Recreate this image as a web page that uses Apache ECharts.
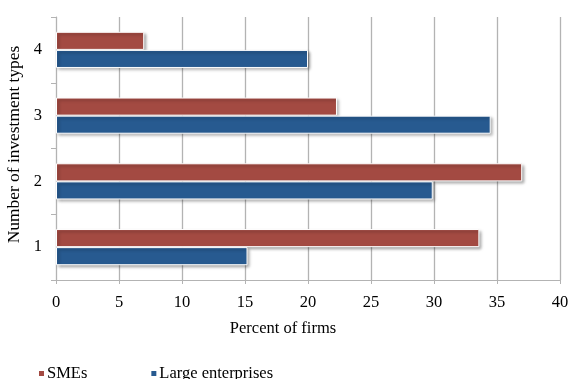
<!DOCTYPE html>
<html>
<head>
<meta charset="utf-8">
<script src="https://cdn.jsdelivr.net/npm/echarts@6/dist/echarts.min.js"></script>
<style>
  html, body { margin: 0; padding: 0; background: #fff; }
  #chart { width: 568px; height: 379px; }
</style>
</head>
<body>
<div id="chart"></div>
<script>
// Number of investment types (category axis, bottom to top)
const categories = ['1', '2', '3', '4'];
// Share of firms (%) by number of investment types
const smes = [33.6, 37.0, 22.3, 7.0];
const largeEnterprises = [15.2, 29.9, 34.5, 20.0];
const xTicks = { min: 0, max: 40, interval: 5 };

const font = 'Liberation Serif, Times New Roman, serif';
const fontSize = 16.5;
const gridGray = '#b3b3b3';

const barStyle = (color) => ({
  color: color,
  borderColor: '#ffffff',
  borderWidth: 1,
  shadowColor: 'rgba(0,0,0,0.35)',
  shadowBlur: 3,
  shadowOffsetX: 2,
  shadowOffsetY: 2
});

const chart = echarts.init(document.getElementById('chart'));
chart.setOption({
  animation: false,
  textStyle: { fontFamily: font },
  grid: { left: 56, right: 8, top: 17, bottom: 99, containLabel: false, outerBoundsMode: 'none' },
  legend: {
    data: ['SMEs', 'Large enterprises'],
    left: 32,
    top: 360,
    itemWidth: 7,
    itemHeight: 7,
    itemGap: 62,
    icon: 'rect',
    textStyle: { fontFamily: font, fontSize: fontSize, color: '#000', padding: [6, 0, 0, -3] }
  },
  xAxis: {
    type: 'value',
    min: xTicks.min,
    max: xTicks.max,
    interval: xTicks.interval,
    name: 'Percent of firms',
    nameLocation: 'middle',
    nameGap: 40,
    nameTextStyle: { fontFamily: font, fontSize: fontSize, color: '#000', padding: [0, 50, 0, 0] },
    axisLine: { show: true, lineStyle: { color: gridGray, width: 1 } },
    axisTick: { show: true, length: 4, lineStyle: { color: gridGray } },
    axisLabel: { fontFamily: font, fontSize: fontSize, color: '#000', margin: 14 },
    splitLine: { show: true, lineStyle: { color: gridGray, width: 1.3 } }
  },
  yAxis: {
    type: 'category',
    data: categories,
    name: 'Number of investment types',
    nameLocation: 'middle',
    nameGap: 24,
    nameRotate: 90,
    nameTextStyle: { fontFamily: font, fontSize: 17.4, color: '#000', padding: [0, 0, 0, 8] },
    axisLine: { show: true, lineStyle: { color: gridGray, width: 1 } },
    axisTick: { show: true, length: 5, lineStyle: { color: gridGray } },
    axisLabel: { fontFamily: font, fontSize: fontSize, color: '#000', margin: 14 }
  },
  series: [
    {
      name: 'SMEs',
      type: 'bar',
      data: smes,
      barGap: '0%',
      barCategoryGap: '45%',
      itemStyle: barStyle('#a34a42')
    },
    {
      name: 'Large enterprises',
      type: 'bar',
      data: largeEnterprises,
      barGap: '0%',
      barCategoryGap: '45%',
      itemStyle: barStyle('#275a90')
    }
  ]
});
</script>
</body>
</html>
